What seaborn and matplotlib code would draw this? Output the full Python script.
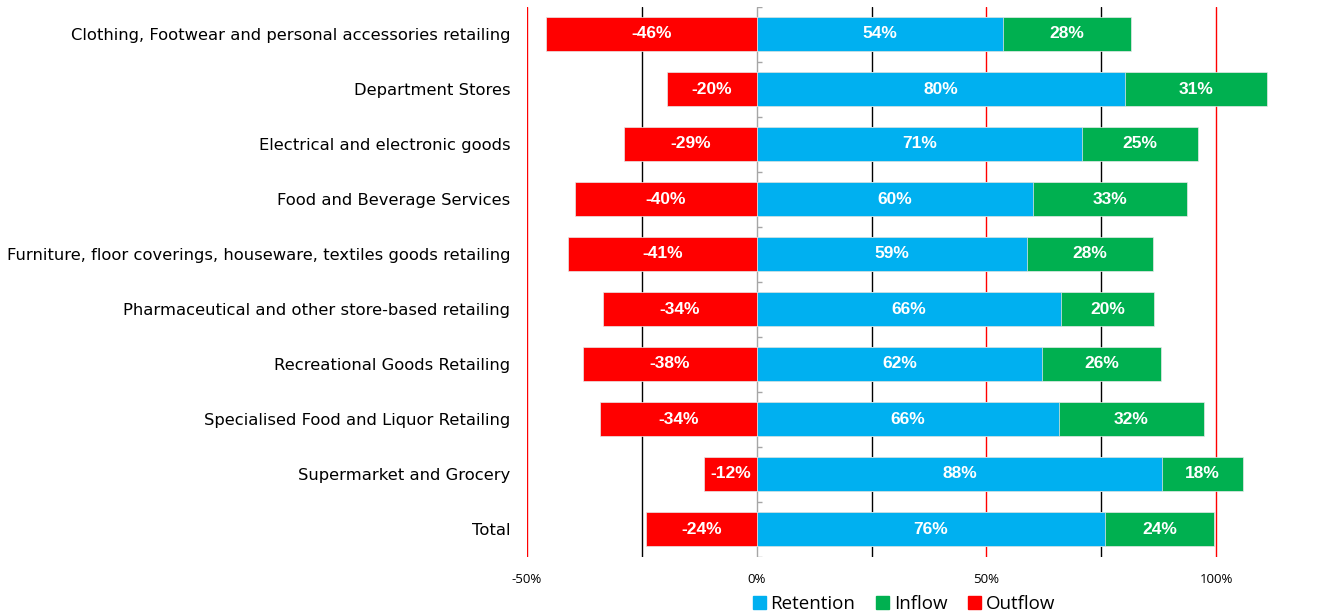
import numpy as np
import pandas as pd
import matplotlib
matplotlib.use("Agg")
import matplotlib.pyplot as plt
from matplotlib.patches import Patch
import seaborn as sns

categories = [
    "Clothing, Footwear and personal accessories retailing",
    "Department Stores",
    "Electrical and electronic goods",
    "Food and Beverage Services",
    "Furniture, floor coverings, houseware, textiles goods retailing",
    "Pharmaceutical and other store-based retailing",
    "Recreational Goods Retailing",
    "Specialised Food and Liquor Retailing",
    "Supermarket and Grocery",
    "Total",
]
retention = [53.7, 80.2, 70.9, 60.2, 58.9, 66.3, 62.2, 65.7, 88.3, 75.9]
inflow = [27.8, 30.9, 25.2, 33.5, 27.4, 20.2, 25.9, 31.7, 17.6, 23.7]
outflow = [-45.9, -19.6, -28.9, -39.6, -41.1, -33.5, -37.8, -34.1, -11.5, -24.1]
retention_labels = ["54%", "80%", "71%", "60%", "59%", "66%", "62%", "66%", "88%", "76%"]
inflow_labels = ["28%", "31%", "25%", "33%", "28%", "20%", "26%", "32%", "18%", "24%"]
outflow_labels = ["-46%", "-20%", "-29%", "-40%", "-41%", "-34%", "-38%", "-34%", "-12%", "-24%"]
xticks = [-50, 0, 50, 100]
xtick_labels = ["-50%", "0%", "50%", "100%"]
series_names = ["Retention", "Inflow", "Outflow"]

c_ret, c_in, c_out = "#00B0F0", "#00B050", "#FF0000"

sns.set_theme(style="white")
plt.rcParams["font.family"] = ["DejaVu Sans"]
plt.rcParams["text.color"] = "black"
plt.rcParams["xtick.color"] = "black"
plt.rcParams["ytick.color"] = "black"
plt.rcParams["xtick.labelcolor"] = "black"
plt.rcParams["ytick.labelcolor"] = "black"

df = pd.DataFrame({
    "cat": categories,
    "ret": retention,
    "inf": inflow,
    "out": outflow,
})
df["total"] = df["ret"] + df["inf"]

fig = plt.figure(figsize=(13.25, 6.16), dpi=100)
ax = fig.add_axes([527 / 1325, 1 - 556.5 / 616, 1 - 527 / 1325, (556.5 - 6.5) / 616])

# gridlines
for v, c in [(-50, "#FF0000"), (50, "#FF0000"), (100, "#FF0000"),
             (-25, "#000000"), (25, "#000000"), (75, "#000000")]:
    ax.axvline(v, color=c, lw=1.0, zorder=0)
ax.axvline(0, color="#A6A6A6", lw=1.0, zorder=0)
ax.hlines(np.arange(-0.5, len(categories)), 0, 1.1, color="#A6A6A6", lw=1.0, zorder=0)

bar_w = 0.62
sns.barplot(data=df, y="cat", x="total", orient="h", color=c_in, saturation=1,
            width=bar_w, ax=ax, edgecolor="#e8e8e8", linewidth=0.5, zorder=2)
sns.barplot(data=df, y="cat", x="ret", orient="h", color=c_ret, saturation=1,
            width=bar_w, ax=ax, edgecolor="#e8e8e8", linewidth=0.5, zorder=3)
sns.barplot(data=df, y="cat", x="out", orient="h", color=c_out, saturation=1,
            width=bar_w, ax=ax, edgecolor="#e8e8e8", linewidth=0.5, zorder=3)

lab_kw = dict(ha="center", va="center", color="white", fontsize=12.5,
              fontweight="bold", family="Liberation Sans", zorder=5)
for i in range(len(categories)):
    ax.text(retention[i] / 2, i, retention_labels[i], **lab_kw)
    ax.text(retention[i] + inflow[i] / 2, i, inflow_labels[i], **lab_kw)
    ax.text(outflow[i] / 2, i, outflow_labels[i], **lab_kw)

ax.set_xlim(-50, 123.7)
ax.set_ylim(len(categories) - 0.5, -0.5)
ax.set_xticks(xticks)
ax.set_xticklabels(xtick_labels, fontsize=9.5, family="Open Sans", color="black")
ax.tick_params(axis="x", length=0, pad=12)
ax.tick_params(axis="y", length=0, pad=12, labelsize=11.8, labelcolor="black")
ax.set_xlabel("")
ax.set_ylabel("")
for s in ax.spines.values():
    s.set_visible(False)
ax.grid(False)

handles = [Patch(color=c_ret), Patch(color=c_in), Patch(color=c_out)]
fig.legend(handles, series_names, loc="center", bbox_to_anchor=(904 / 1325, 12 / 616),
           ncol=3, frameon=False, handlelength=0.7, handleheight=0.7,
           handletextpad=0.25, columnspacing=1.1, labelcolor="black",
           prop={"family": "Open Sans", "size": 13.5})

fig.savefig("out.png", dpi=100)
